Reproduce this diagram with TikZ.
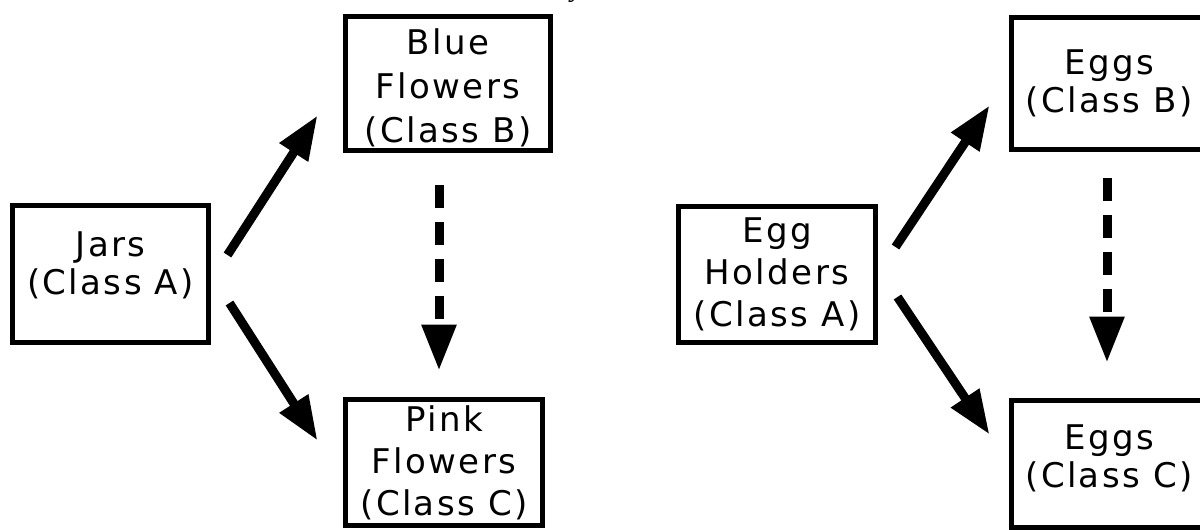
\documentclass[tikz,border=0pt]{standalone}
\usepackage{fontspec}
\setmainfont{DejaVu Sans}[LetterSpace=7]
\newfontfamily\serifit{Liberation Serif}
\usetikzlibrary{arrows.meta,calc}
\begin{document}
\begin{tikzpicture}[x=1pt,y=-1pt,
  box/.style={draw=black,line width=5pt,inner sep=0pt,align=center,
    font=\fontsize{34}{42}\selectfont},
  twoline/.style={font=\fontsize{34}{38}\selectfont},
  solidarrow/.style={line width=9pt,-{Triangle[length=44pt,width=32pt]}},
  dasharrow/.style={line width=9pt,dash pattern=on 23pt off 14pt,
    -{Triangle[length=46pt,width=33pt]}}]
\useasboundingbox (0,0) rectangle (1200,530);
\clip (0,0) rectangle (1200,530);
\node[font=\serifit\itshape\fontsize{28}{30}\selectfont,anchor=base] (frag) at (577,-3) {y};
% left group
\node[box,twoline,text depth=22pt,minimum width=196pt,minimum height=137pt] (jars) at (110.5,274) {Jars\\(Class A)};
\node[box,font=\fontsize{34}{44}\selectfont,text height=122pt,minimum width=205pt,minimum height=134pt] (blue) at (448,83.5) {Blue\\Flowers\\(Class B)};
\node[box,minimum width=197pt,minimum height=126pt] (pink) at (444,462.5) {Pink\\Flowers\\(Class C)};
% right group
\node[box,minimum width=197pt,minimum height=136pt] (holders) at (777,274.5) {Egg\\Holders\\(Class A)};
\node[box,twoline,minimum width=195pt,minimum height=132pt] (eggsb) at (1109,83.5) {Eggs\\(Class B)};
\node[box,twoline,text depth=15pt,minimum width=195pt,minimum height=127.5pt] (eggsc) at (1109,463.75) {Eggs\\(Class C)};
% connectors
\draw[solidarrow] ($(jars.east)+(16.5,-19)$) -- ($(blue.south west)+(-25.5,-37.5)$);
\draw[solidarrow] ($(jars.east)+(18.5,29)$) -- ($(pink.north west)+(-25.5,43.5)$);
\draw[dasharrow] ($(blue.south)+(-9,31.5)$) -- ($(pink.north)+(-5,-26.5)$);
\draw[solidarrow] ($(holders.east)+(17.5,-27.5)$) -- ($(eggsb.south west)+(-19.5,-46.5)$);
\draw[solidarrow] ($(holders.east)+(19.5,22.5)$) -- ($(eggsc.north west)+(-19.5,37)$);
\draw[dasharrow] ($(eggsb.south)+(-2,25.5)$) -- ($(eggsc.north)+(-2,-35)$);
\end{tikzpicture}
\end{document}
